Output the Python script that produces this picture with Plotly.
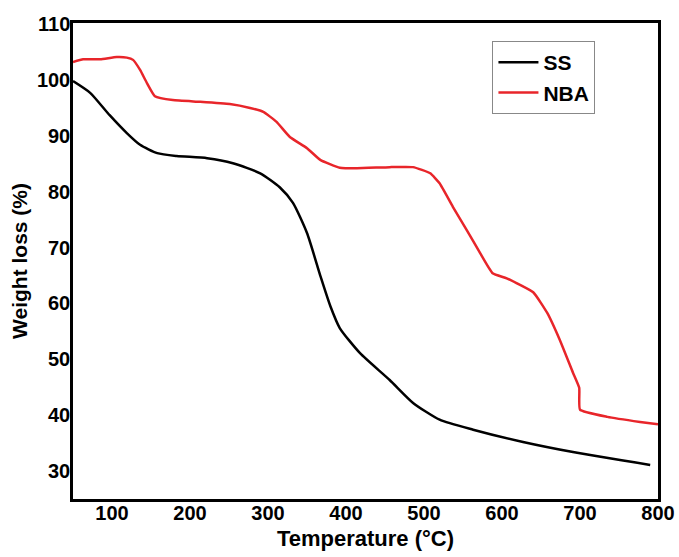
import plotly.graph_objects as go

ss_x = [50, 72, 97, 119, 136, 158, 183, 222, 255, 290, 315, 332, 350, 367, 380, 392, 418, 456, 486, 520, 563, 627, 691, 790]
ss_y = [99.8, 97.7, 93.7, 90.5, 88.4, 86.9, 86.4, 86.0, 85.1, 83.3, 80.8, 78.0, 72.6, 65.0, 59.5, 55.6, 51.1, 46.3, 42.2, 39.2, 37.4, 35.2, 33.4, 31.1]

nba_x = [50, 63, 85, 106, 119, 127, 136, 145, 155, 178, 213, 251, 277, 294, 311, 328, 350, 367, 392, 414, 456, 486, 508, 520, 537, 555, 572, 588, 606, 640, 658, 674, 691, 699, 700, 735, 777, 800]
nba_y = [103.2, 103.7, 103.7, 104.1, 104.0, 103.6, 101.8, 99.4, 97.1, 96.4, 96.1, 95.7, 95.0, 94.3, 92.5, 89.8, 87.8, 85.7, 84.3, 84.2, 84.4, 84.4, 83.3, 81.5, 77.3, 73.1, 69.0, 65.4, 64.5, 62.0, 58.3, 53.5, 47.6, 44.9, 41.0, 39.7, 38.8, 38.4]

x_ticks = [100, 200, 300, 400, 500, 600, 700, 800]
y_ticks = [30, 40, 50, 60, 70, 80, 90, 100, 110]

font_family = "Arial, Liberation Sans, sans-serif"

fig = go.Figure()
fig.add_trace(go.Scatter(x=ss_x, y=ss_y, mode="lines", name="<b>SS</b>",
                         line=dict(color="black", width=2.5, shape="spline", smoothing=0.6)))
fig.add_trace(go.Scatter(x=nba_x, y=nba_y, mode="lines", name="<b>NBA</b>",
                         line=dict(color="#e8252a", width=2.5, shape="spline", smoothing=0.4)))

fig.update_layout(
    width=679, height=557,
    margin=dict(l=73, r=21, t=23, b=58),
    paper_bgcolor="white", plot_bgcolor="white",
    font=dict(family=font_family, color="black", size=20),
    showlegend=True,
    legend=dict(x=0.717, y=0.962, xanchor="left", yanchor="top",
                bgcolor="white", bordercolor="#888888", borderwidth=1,
                font=dict(size=21, family=font_family),
                tracegroupgap=0, itemwidth=40),
    xaxis=dict(range=[50, 800], tickvals=x_ticks, ticktext=[f"<b>{v}</b>" for v in x_ticks],
               ticks="", showgrid=False, zeroline=False, automargin=False, ticklabelstandoff=-6,
               showline=True, linecolor="black", linewidth=2.5, mirror=True,
               tickfont=dict(size=20, family=font_family),
               title=dict(text="<b>Temperature (°C)</b>", font=dict(size=22, family=font_family), standoff=8)),
    yaxis=dict(range=[25, 110.2], tickvals=y_ticks, ticktext=[f"<b>{v}</b>" for v in y_ticks],
               ticks="", showgrid=False, zeroline=False, automargin=False, ticklabelstandoff=-4,
               showline=True, linecolor="black", linewidth=2.5, mirror=True,
               tickfont=dict(size=20, family=font_family),
               title=dict(text="<b>Weight loss (%)</b>", font=dict(size=21, family=font_family), standoff=4)),
)

fig.write_html("out.html")
